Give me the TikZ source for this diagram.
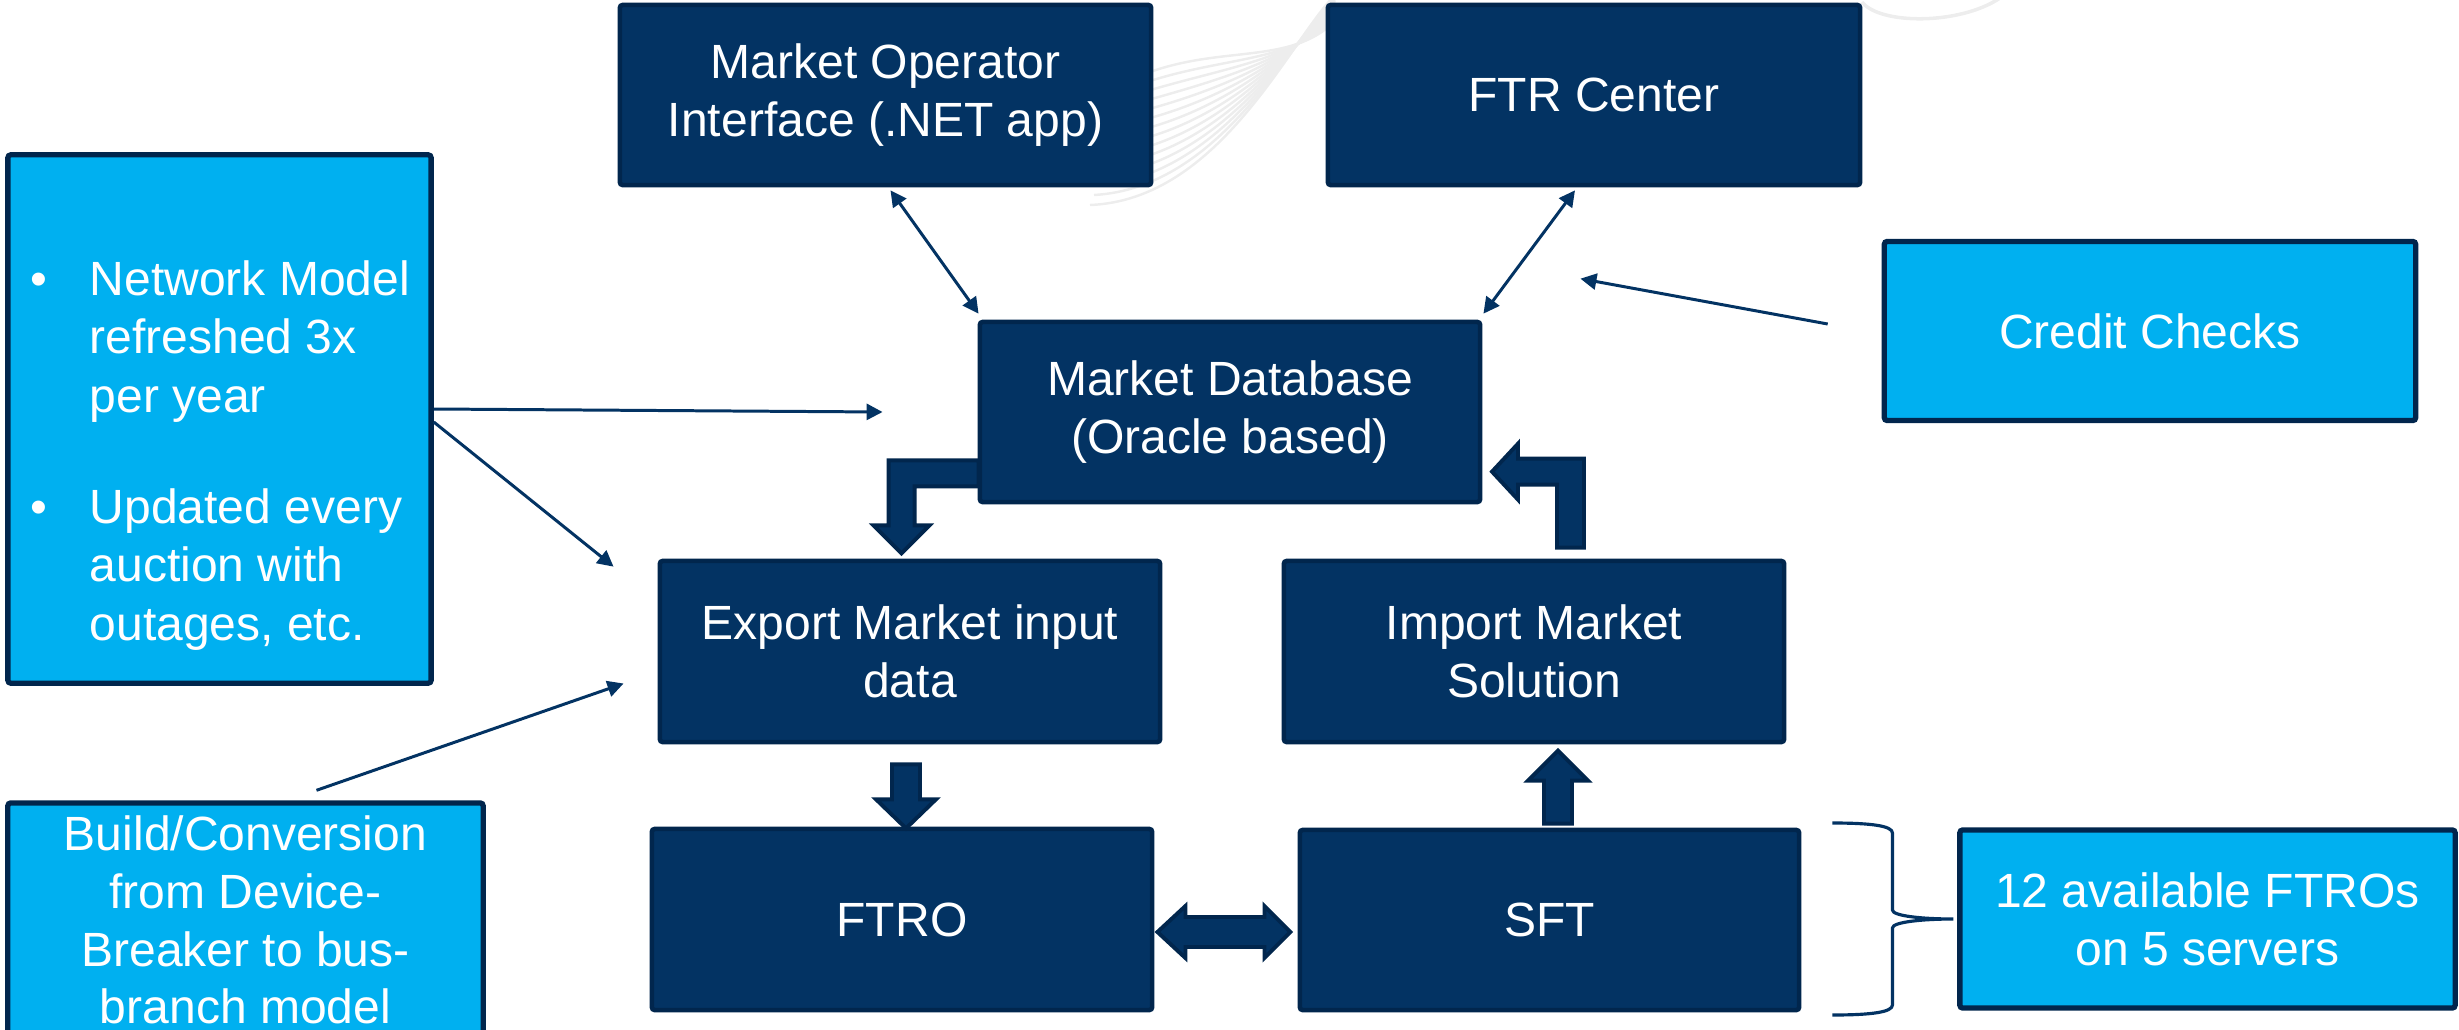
\documentclass[tikz,border=0pt]{standalone}
\usepackage{fontspec}
\setmainfont{Liberation Sans}
\usetikzlibrary{calc,arrows.meta}
\definecolor{navy}{HTML}{033363}
\definecolor{navyline}{HTML}{01264D}
\definecolor{lblue}{HTML}{00B0F0}
\definecolor{wavegray}{HTML}{EDEDED}
\newcommand{\dtext}{\fontsize{13.66}{16.4}\selectfont}
\begin{document}
\begin{tikzpicture}[x=0.01cm,y=-0.01cm,
  darkbox/.style={draw=navyline, fill=navy, line width=1.3pt, rounded corners=0.8pt, text=white, align=center, font=\dtext, inner sep=0pt},
  lightbox/.style={draw=navyline, fill=lblue, line width=1.5pt, rounded corners=0.8pt, text=white, align=center, font=\dtext, inner sep=0pt},
  conn/.style={draw=navy, line width=0.85pt},
  arrowone/.style={-{Triangle[length=0.16cm,width=0.16cm]}},
  arrowboth/.style={{Triangle[length=0.16cm,width=0.16cm]}-{Triangle[length=0.16cm,width=0.16cm]}},
  blockarrow/.style={fill=navy, draw=navyline, line width=1.1pt, line join=miter},
  bline/.style={anchor=base west, text=white, font=\dtext, inner sep=0pt},
]
\useasboundingbox (0,0) rectangle (2459,1030);

% faint background waves
\foreach \i in {0,...,13}
  \draw[draw=wavegray, line width=0.7pt] (1090+4*\i,205-10*\i) .. controls (1220,200-12*\i) and (1290,40+2*\i) .. (1335,-5+2*\i);
\draw[draw=wavegray, line width=1pt] (1862,2) .. controls (1880,25) and (1960,25) .. (2000,-2);

% main boxes
\node[darkbox, minimum width=5.31cm, minimum height=1.8cm] (moi) at (885.5,95) {Market Operator\\Interface (.NET app)};
\node[darkbox, minimum width=5.32cm, minimum height=1.8cm] (ftr) at (1594,95) {FTR Center};
\node[darkbox, minimum width=5.0cm, minimum height=1.8cm] (mdb) at (1230,412) {Market Database\\(Oracle based)};
\node[darkbox, minimum width=5.0cm, minimum height=1.81cm] (exp) at (910,651.5) {Export Market input\\data};
\node[darkbox, minimum width=5.0cm, minimum height=1.81cm] (imp) at (1534,651.5) {Import Market\\Solution};
\node[darkbox, minimum width=5.0cm, minimum height=1.81cm] (ftro) at (902,919.5) {FTRO};
\node[darkbox, minimum width=4.99cm, minimum height=1.8cm] (sft) at (1549.5,920) {SFT};

% side boxes
\node[lightbox, minimum width=4.23cm, minimum height=5.28cm] (nm) at (219.5,419) {};
\node[bline] (nmb1) at (30,295) {•};
\node[bline] (nml1) at (89,295) {Network Model};
\node[bline] (nml2) at (89,353.5) {refreshed 3x};
\node[bline] (nml3) at (89,412) {per year};
\node[bline] (nmb2) at (30,523) {•};
\node[bline] (nml4) at (89,523) {Updated every};
\node[bline] (nml5) at (89,581.5) {auction with};
\node[bline] (nml6) at (89,640) {outages, etc.};

\node[lightbox, minimum width=4.75cm, minimum height=2.34cm] (build) at (245.5,920) {Build/Conversion\\from Device-\\Breaker to bus-\\branch model};
\node[lightbox, minimum width=5.31cm, minimum height=1.79cm] (credit) at (2150,331) {Credit Checks};
\node[lightbox, minimum width=4.95cm, minimum height=1.78cm] (ftros) at (2207.5,919) {12 available FTROs\\on 5 servers};

% thin connectors
\draw[conn, arrowboth] ($(moi.south)+(5,3)$) -- ($(mdb.north west)+(1,-6)$);
\draw[conn, arrowboth] ($(ftr.south)+(-19,3)$) -- ($(mdb.north east)+(1,-6)$);
\draw[conn, arrowone] ($(credit.west)+(-54,-7)$) -- ($(mdb.north east)+(98,-41)$);
\draw[conn, arrowone] ($(nm.east)+(0,-10)$) -- ($(mdb.west)+(-95,0)$);
\draw[conn, arrowone] ($(nm.east)+(0,3)$) -- ($(exp.north west)+(-44,8)$);
\draw[conn, arrowone] ($(build.north)+(71,-10)$) -- ($(exp.west)+(-34,32)$);

% block arrows
\draw[blockarrow] ($(mdb.south west)+(1,-44)$) -- ++(-90,0) -- ++(0,65) -- ++(-15,0) -- ++(28,28) -- ++(28,-28) -- ++(-15,0) -- ++(0,-39) -- ++(64,0) -- cycle;
\draw[blockarrow] ($(imp.north)+(23,-11)$) -- ++(27,0) -- ++(0,-89) -- ++(-66,0) -- ++(0,-15) -- ++(-26,28) -- ++(26,28) -- ++(0,-15) -- ++(39,0) -- cycle;
\draw[blockarrow] ($(exp.south)+(-4,20)$) ++(-14,0) -- ++(0,35) -- ++(-16,0) -- ++(30,29) -- ++(30,-29) -- ++(-16,0) -- ++(0,-35) -- cycle;
\draw[blockarrow] ($(sft.north)+(8.5,-4)$) ++(-14,0) -- ++(0,-43) -- ++(-16,0) -- ++(30,-30) -- ++(30,30) -- ++(-16,0) -- ++(0,43) -- cycle;
\draw[blockarrow] ($(ftro.east)+(3,12.5)$) -- ++(28,-26) -- ++(0,11) -- ++(79,0) -- ++(0,-11) -- ++(26,26) -- ++(-26,26) -- ++(0,-11) -- ++(-79,0) -- ++(0,11) -- cycle;

% brace
\coordinate (br) at ($(sft.east)+(91,-1)$);
\draw[conn, line width=0.9pt] ($(br)+(-60,-96)$) .. controls ($(br)+(-20,-96)$) and ($(br)+(0,-93)$) .. ($(br)+(0,-86)$) -- ($(br)+(0,-9)$) .. controls ($(br)+(0,-3)$) and ($(br)+(30,0)$) .. ($(br)+(61,0)$) .. controls ($(br)+(30,0)$) and ($(br)+(0,3)$) .. ($(br)+(0,9)$) -- ($(br)+(0,86)$) .. controls ($(br)+(0,93)$) and ($(br)+(-20,96)$) .. ($(br)+(-60,96)$);
\end{tikzpicture}
\end{document}
